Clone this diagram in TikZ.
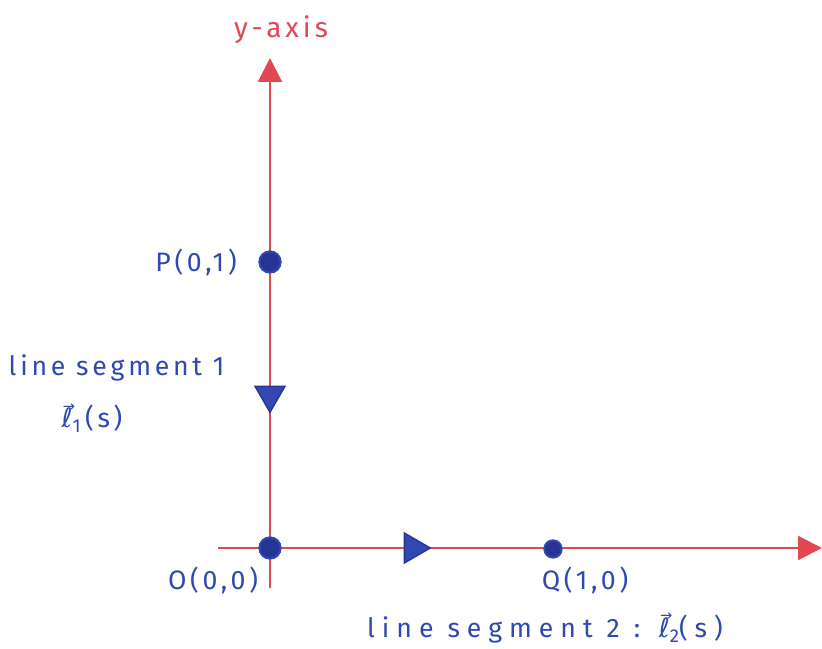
\documentclass[tikz,border=0pt]{standalone}
\usepackage{fontspec}
\setmainfont{Fira Sans}[LetterSpace=14]
\newfontfamily\symfont{DejaVu Sans}
\usetikzlibrary{shapes.geometric,arrows.meta}
\definecolor{penred}{RGB}{226,72,84}
\definecolor{penblue}{RGB}{48,72,176}
\definecolor{dotblue}{RGB}{38,52,150}
\newcommand\vecell[1]{\makebox[0pt][l]{\hspace{0.05em}\raisebox{0.62em}{\symfont\fontsize{11}{11}\selectfont →}}{\symfont ℓ}\raisebox{-0.35ex}{\fontsize{14}{14}\selectfont #1}}
\tikzset{
  axis/.style={penred, line width=1.6pt, -{Triangle[length=18pt,width=18pt]}},
  dot/.style={circle, fill=dotblue, draw=penblue, line width=1.5pt, inner sep=0pt, minimum size=#1},
  redlbl/.style={text=penred, font=\fontsize{21}{24}\selectfont},
  bluelbl/.style={text=penblue, font=\fontsize{20}{24}\selectfont},
  dirtri/.style={regular polygon, regular polygon sides=3, fill=penblue, draw=dotblue, line width=1pt, inner sep=0pt, minimum size=26pt}
}
\begin{document}
\begin{tikzpicture}[x=0.75pt,y=-0.75pt]
\useasboundingbox (0,0) rectangle (822,649);
% axes
\coordinate (ybot) at (270,588);
\coordinate (ytop) at (270,58);
\coordinate (xleft) at (218,548);
\coordinate (xright) at (822,548);
\draw[axis] (ybot) -- (ytop);
\draw[axis] (xleft) -- (xright);
\node[redlbl] (ylabel) at (281,30) {y-axis};
% points
\node[dot=16pt] (P) at (270,262) {};
\node[dot=16pt] (O) at (270,548) {};
\node[dot=13pt] (Q) at (553,549) {};
\node[bluelbl] (Plbl) at (196,262) {P(0,1)};
\node[bluelbl] (Olbl) at (213,580) {O(0,0)};
\node[bluelbl] (Qlbl) at (585,580) {Q(1,0)};
% direction markers
\node[dirtri, shape border rotate=180] (d1) at (270,395) {};
\node[dirtri, shape border rotate=-90] (d2) at (413,548) {};
% segment labels
\node[bluelbl, anchor=west] (s1) at (4,368) {line segment 1};
\node[bluelbl] (s1v) at (92,418) {\vecell{1}\,(s)};
\node[bluelbl, font=\fontsize{20}{24}\selectfont\addfontfeatures{LetterSpace=26}] (s2) at (545,628) {line segment 2 : \vecell{2}(s)};
\end{tikzpicture}
\end{document}
